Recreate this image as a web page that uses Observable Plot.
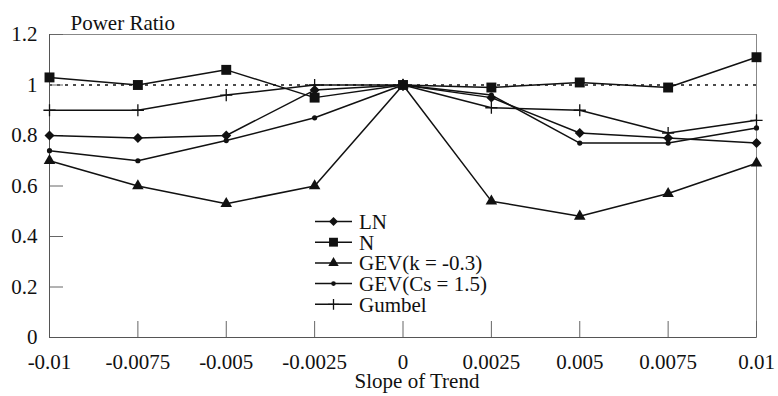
<!DOCTYPE html>
<html><head><meta charset="utf-8">
<script src="https://cdn.jsdelivr.net/npm/d3@7"></script>
<script src="https://cdn.jsdelivr.net/npm/@observablehq/plot@0.6"></script>
<style>
body{margin:0;background:#fff}
#wrap{position:relative;width:778px;height:396px;font-family:"Liberation Serif","Times New Roman",serif}
#legend{position:absolute;left:0;top:0;pointer-events:none}
</style>
</head><body><div id="wrap"></div>
<script>
// ---- data ----
const slopes = [-0.01, -0.0075, -0.005, -0.0025, 0, 0.0025, 0.005, 0.0075, 0.01];
const LN     = [0.80, 0.79, 0.80, 0.98, 1.00, 0.95, 0.81, 0.79, 0.77];
const N      = [1.03, 1.00, 1.06, 0.95, 1.00, 0.99, 1.01, 0.99, 1.11];
const GEVk   = [0.70, 0.60, 0.53, 0.60, 1.00, 0.54, 0.48, 0.57, 0.69];
const GEVcs  = [0.74, 0.70, 0.78, 0.87, 1.00, 0.96, 0.77, 0.77, 0.83];
const Gumbel = [0.90, 0.90, 0.96, 1.00, 1.00, 0.91, 0.90, 0.81, 0.86];
const seriesNames = ["LN", "N", "GEV(k = -0.3)", "GEV(Cs = 1.5)", "Gumbel"];
const seriesValues = [LN, N, GEVk, GEVcs, Gumbel];
const yTicks = [0, 0.2, 0.4, 0.6, 0.8, 1, 1.2];
const referenceLevel = [1];

// ---- styles ----
const symbolNames = ["diamond2", "square", "triangle", "circle", "plus"];
const radii = [4.5, 5.6, 4.3, 2.6, 4];
const filled = [true, true, true, true, false];
const ink = "#111";
const font = '"Liberation Serif","Times New Roman",serif';
const FS = 21;

const rows = seriesNames.flatMap((name, i) => slopes.map((s, j) => ({series: name, x: s, y: seriesValues[i][j]})));
const fmt = d => String(+d.toFixed(4));

const marks = [
  Plot.frame({stroke: "#888"}),
  Plot.ruleY(referenceLevel, {stroke: ink, strokeWidth: 1.3, strokeDasharray: "3,5"}),
  // inward ticks
  Plot.tickX(slopes, {x: d => d, stroke: "#666", insetTop: 287}),
  Plot.tickY(yTicks, {y: d => d, stroke: "#666", insetRight: 693}),
  Plot.axisY({ticks: yTicks, tickSize: 0, tickPadding: 12, tickFormat: fmt, label: null, fontSize: FS}),
  Plot.axisX({ticks: slopes, tickSize: 0, tickPadding: 17, tickFormat: fmt, label: null, fontSize: FS}),
  Plot.ruleX([slopes[0]], {stroke: "#555"}),
  Plot.ruleY([0], {stroke: "#555"}),
  ...seriesNames.map(name => Plot.line(rows.filter(d => d.series === name), {x: "x", y: "y", stroke: ink, strokeWidth: 1.5})),
  ...seriesNames.map((name, i) => Plot.dot(rows.filter(d => d.series === name), {
    x: "x", y: "y", symbol: symbolNames[i], r: radii[i],
    fill: filled[i] ? ink : "none", stroke: filled[i] ? "none" : ink, strokeWidth: 1.3
  })),
  Plot.text(["Power Ratio"], {text: d => d, frameAnchor: "top-left", dx: 21, dy: -19, textAnchor: "start", fontSize: FS, fill: ink}),
  Plot.text(["Slope of Trend"], {text: d => d, frameAnchor: "bottom", dx: 14, dy: 50, fontSize: FS, fill: ink})
];

const chart = Plot.plot({
  width: 778, height: 396,
  marginLeft: 49, marginRight: 22, marginTop: 34, marginBottom: 59,
  x: {domain: [-0.01, 0.01]},
  y: {domain: [0, 1.2]},
  style: {fontFamily: font, fontSize: FS + "px", color: ink, background: "#fff"},
  marks
});
const wrap = document.getElementById("wrap");
wrap.appendChild(chart);

// ---- legend (inside plot area) ----
const symbolMap = {diamond2: d3.symbolDiamond2, square: d3.symbolSquare, triangle: d3.symbolTriangle, circle: d3.symbolCircle, plus: d3.symbolPlus};
const lg = d3.select(wrap).append("svg").attr("id", "legend").attr("width", 778).attr("height", 396)
  .style("font-family", font).style("font-size", FS + "px");
seriesNames.forEach((name, i) => {
  const g = lg.append("g").attr("transform", `translate(315,${221.5 + i * 20.7})`);
  g.append("line").attr("x1", 0).attr("x2", 37).attr("stroke", ink).attr("stroke-width", 1.5);
  g.append("path").attr("transform", "translate(18.5,0)")
    .attr("d", d3.symbol(symbolMap[symbolNames[i]], Math.PI * radii[i] * radii[i] * 0.8)())
    .attr("fill", filled[i] ? ink : "none").attr("stroke", filled[i] ? "none" : ink).attr("stroke-width", 1.3);
  g.append("text").attr("x", 44).attr("y", 0).attr("dy", "0.35em").attr("fill", ink).text(name);
});
</script>
</body></html>
